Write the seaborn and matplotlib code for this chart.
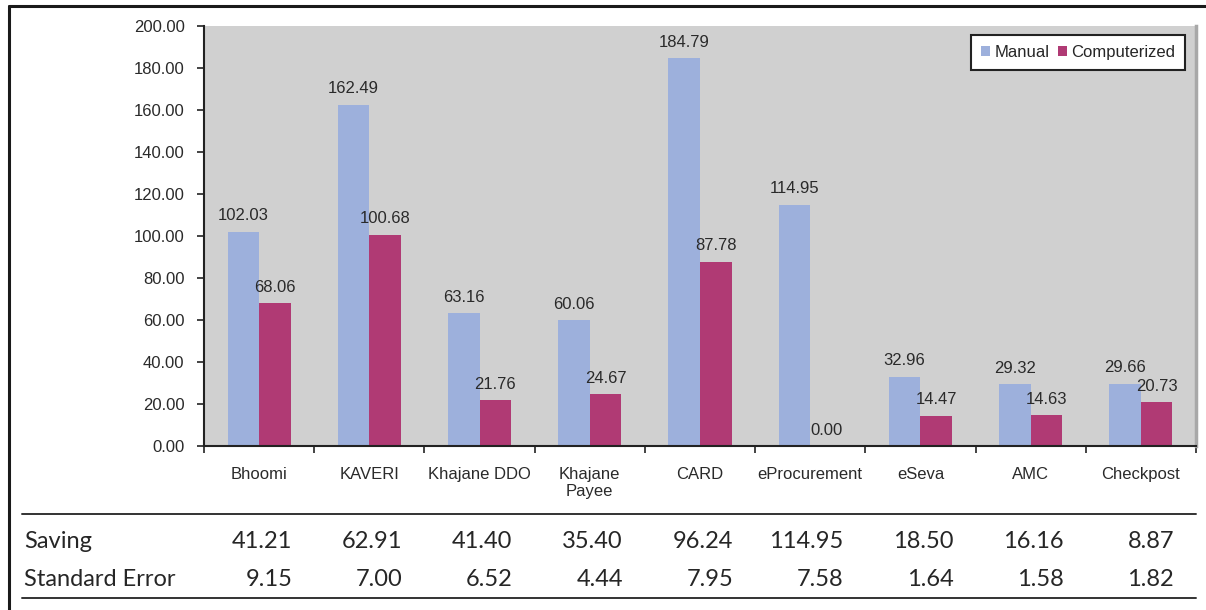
import matplotlib
matplotlib.use("Agg")
import matplotlib.pyplot as plt
import matplotlib.transforms as mtransforms
from matplotlib.lines import Line2D
from matplotlib.ticker import FixedLocator, FormatStrFormatter
import numpy as np
import pandas as pd
import seaborn as sns

# Processing cost per transaction, manual vs computerized, by e-governance project
systems = ["Bhoomi", "KAVERI", "Khajane DDO", "Khajane\nPayee", "CARD",
           "eProcurement", "eSeva", "AMC", "Checkpost"]
manual = [102.03, 162.49, 63.16, 60.06, 184.79, 114.95, 32.96, 29.32, 29.66]
computerized = [68.06, 100.68, 21.76, 24.67, 87.78, 0.00, 14.47, 14.63, 20.73]
series_names = ["Manual", "Computerized"]
saving = ["41.21", "62.91", "41.40", "35.40", "96.24", "114.95", "18.50", "16.16", "8.87"]
std_error = ["9.15", "7.00", "6.52", "4.44", "7.95", "7.58", "1.64", "1.58", "1.82"]
row_labels = ["Saving", "Standard Error"]

df = pd.DataFrame({
    "system": systems * 2,
    "series": [series_names[0]] * len(systems) + [series_names[1]] * len(systems),
    "value": manual + computerized,
})

sns.set_theme(style="white")
plt.rcParams["font.family"] = ["Liberation Sans", "DejaVu Sans"]

W, H = 1206, 610
fig = plt.figure(figsize=(W / 100, H / 100), dpi=100)
fig.patch.set_facecolor("white")

ax = fig.add_axes([204 / W, 1 - 446 / H, (1196 - 204) / W, (446 - 26) / H])
ax.set_facecolor("#D0D0D0")

palette = {"Manual": "#9DB0DC", "Computerized": "#B03A74"}
sns.barplot(data=df, x="system", y="value", hue="series", palette=palette,
            width=0.573, gap=0, saturation=1, linewidth=0, ax=ax)

for cont in ax.containers:
    ax.bar_label(cont, fmt="%.2f", padding=6, fontsize=12, color="#2A2A2A")

ax.set_ylim(0, 200)
ax.set_xlim(-0.5, len(systems) - 0.5)
ax.yaxis.set_major_locator(FixedLocator(np.arange(0, 201, 20)))
ax.yaxis.set_major_formatter(FormatStrFormatter("%.2f"))
ax.set_xlabel("")
ax.set_ylabel("")

# category labels at centres, tick marks on category boundaries
ax.set_xticks(range(len(systems)))
ax.set_xticklabels(systems, fontsize=12, color="#2A2A2A", linespacing=1.15)
ax.tick_params(axis="x", which="major", length=0, pad=15)
ax.set_xticks(np.arange(-0.5, len(systems)), minor=True)
ax.tick_params(axis="x", which="minor", length=5, width=1.2, color="#222222",
               direction="out", bottom=True)
ax.tick_params(axis="y", length=5, width=1.2, color="#222222", direction="out",
               left=True, pad=9, labelsize=12, labelcolor="#2A2A2A")

ax.spines["top"].set_visible(False)
ax.spines["right"].set_color("#A8A8A8")
ax.spines["right"].set_linewidth(2.5)
for side in ["left", "bottom"]:
    ax.spines[side].set_color("#222222")
    ax.spines[side].set_linewidth(1.5)

leg = ax.legend(loc="upper right", bbox_to_anchor=(0.989, 0.979), ncol=2,
                fontsize=12, frameon=True, fancybox=False, handlelength=0.55,
                handleheight=0.55, handletextpad=0.25, columnspacing=0.5,
                borderpad=0.6, borderaxespad=0)
leg.get_frame().set_edgecolor("#222222")
leg.get_frame().set_linewidth(1.5)
leg.get_frame().set_facecolor("white")
leg.get_frame().set_alpha(1)

# outer frame
fig.add_artist(Line2D([9 / W, 1.0], [1 - 6 / H, 1 - 6 / H], transform=fig.transFigure,
                      color="#1A1A1A", linewidth=2.2))
fig.add_artist(Line2D([9 / W, 9 / W], [0, 1 - 6 / H], transform=fig.transFigure,
                      color="#1A1A1A", linewidth=2.2))

# summary table under the chart
for yy in (514, 598):
    fig.add_artist(Line2D([22 / W, 1196 / W], [1 - yy / H, 1 - yy / H],
                          transform=fig.transFigure, color="#333333", linewidth=1.4))

trans = mtransforms.blended_transform_factory(ax.transData, fig.transFigure)
table_rows = [saving, std_error]
row_y = [541, 580]
for label, vals, yy in zip(row_labels, table_rows, row_y):
    fig.text(24 / W, 1 - yy / H, label, ha="left", va="center", fontsize=17,
             family=["Lato", "DejaVu Sans"], color="#262626")
    for i, v in enumerate(vals):
        fig.text(i + 0.3, 1 - yy / H, v, transform=trans, ha="right", va="center",
                 fontsize=17, family=["Lato", "DejaVu Sans"], color="#262626")

fig.savefig("out.png", dpi=100)
